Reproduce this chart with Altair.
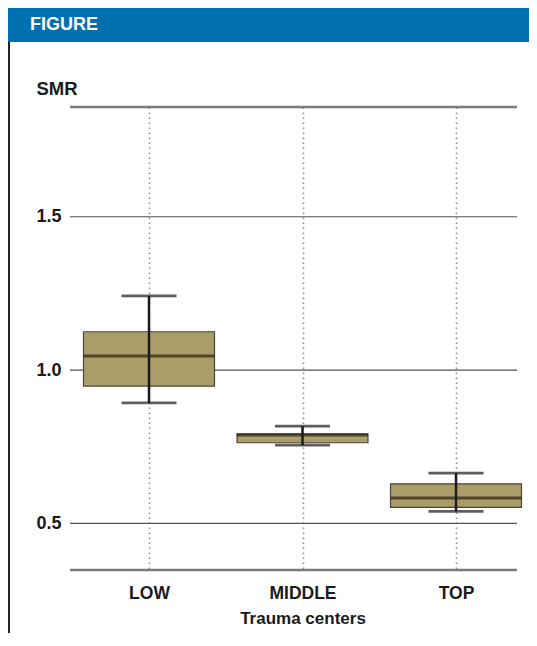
import altair as alt
import pandas as pd

# ---- data ----
categories = ["LOW", "MIDDLE", "TOP"]
whisker_low = [0.893, 0.755, 0.539]
q1 = [0.948, 0.763, 0.552]
median = [1.046, 0.788, 0.583]
q3 = [1.125, 0.792, 0.629]
whisker_high = [1.242, 0.817, 0.664]
y_ticks = [0.5, 1.0, 1.5]
y_domain = [0.348, 1.858]

FONT = "'Liberation Sans', Arial, sans-serif"
INK = "#1a1a1a"

df = pd.DataFrame({
    "cat": categories,
    "lo": whisker_low,
    "q1": q1,
    "med": median,
    "q3": q3,
    "hi": whisker_high,
})
edges = pd.DataFrame({"y": y_domain})
grid = pd.DataFrame({"y": y_ticks})
one = pd.DataFrame({"label": ["FIGURE"]})

yscale = alt.Scale(domain=y_domain, nice=False, zero=False)
xscale = alt.Scale(type="point", domain=categories, range=[79, 386], padding=0)

yaxis = alt.Axis(
    values=y_ticks, format=".1f", title="SMR",
    titleAngle=0, titleAlign="left", titleBaseline="alphabetic",
    titleX=-34, titleY=-13, titleFont=FONT, titleFontSize=18.5,
    titleFontWeight="bold", titleColor=INK,
    labelFont=FONT, labelFontSize=18, labelFontWeight="bold",
    labelColor=INK, labelPadding=9, ticks=False, domain=False, grid=False,
)
xaxis = alt.Axis(
    title="Trauma centers", labelAngle=0, ticks=False, domain=False,
    grid=True, gridDash=[1.5, 3.5], gridColor="#8a8a8a", gridWidth=1.5,
    labelFont=FONT, labelFontSize=17.5, labelFontWeight="bold", labelColor=INK,
    labelPadding=14, titleFont=FONT, titleFontSize=17, titleFontWeight="bold",
    titleColor=INK, titlePadding=9,
)

X = lambda: alt.X("cat:N", scale=xscale, axis=xaxis, sort=categories)

base = alt.Chart(df)

box = base.mark_bar(size=131, fill="#ab9d69", stroke="#4c4536", strokeWidth=1.2).encode(
    x=X(),
    y=alt.Y("q1:Q", scale=yscale, axis=yaxis),
    y2="q3:Q",
)
whisker = base.mark_rule(color=INK, strokeWidth=2.5).encode(
    x=X(),
    y=alt.Y("lo:Q", scale=yscale, axis=yaxis),
    y2="hi:Q",
)
cap_lo = base.mark_tick(size=55, thickness=2.8, color=INK, orient="horizontal").encode(
    x=X(), y=alt.Y("lo:Q", scale=yscale, axis=yaxis)
)
cap_hi = base.mark_tick(size=55, thickness=2.8, color=INK, orient="horizontal").encode(
    x=X(), y=alt.Y("hi:Q", scale=yscale, axis=yaxis)
)
med = base.mark_tick(size=131, thickness=3, color="#2a2214", orient="horizontal").encode(
    x=X(), y=alt.Y("med:Q", scale=yscale, axis=yaxis)
)
grid_lines = alt.Chart(grid).mark_rule(color="#555555", strokeWidth=1.2).encode(
    y=alt.Y("y:Q", scale=yscale, axis=yaxis)
)
edge_lines = alt.Chart(edges).mark_rule(color="#7a7a7a", strokeWidth=2.5).encode(
    y=alt.Y("y:Q", scale=yscale, axis=yaxis)
)

header = alt.Chart(one).mark_rect(color="#0070b0").encode(
    x=alt.value(-62), x2=alt.value(459), y=alt.value(-99), y2=alt.value(-65)
)
header_text = alt.Chart(one).mark_text(
    align="left", baseline="middle", font=FONT, fontSize=18,
    fontWeight="bold", color="white"
).encode(text="label:N", x=alt.value(-40), y=alt.value(-82))
border = alt.Chart(one).mark_rule(color="#222222", strokeWidth=2).encode(
    x=alt.value(-61), y=alt.value(-65), y2=alt.value(530)
)

chart = alt.layer(
    grid_lines, edge_lines, box, whisker, cap_lo, cap_hi, med,
    header, header_text, border
).properties(
    width=447, height=463,
    autosize=alt.AutoSizeParams(type="none"),
    padding={"left": 62, "top": 99, "right": 12, "bottom": 63},
    background="white",
).configure_view(strokeWidth=0)

chart.save("out.html", embed_options={"renderer": "svg", "actions": False})
